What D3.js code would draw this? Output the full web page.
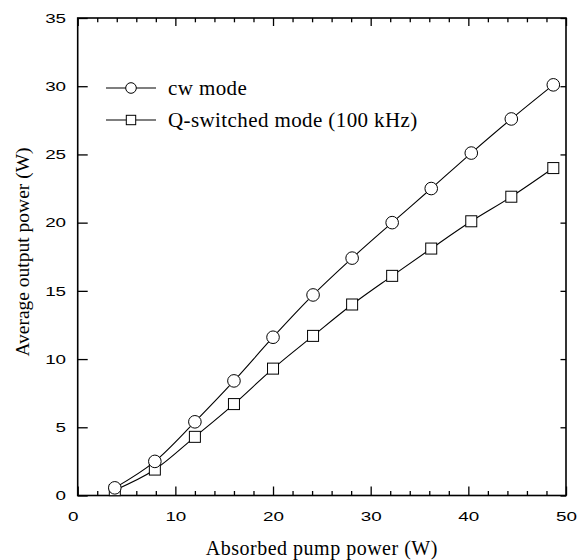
<!DOCTYPE html>
<html lang="en">
<head>
<meta charset="UTF-8">
<title>Average output power vs absorbed pump power</title>
<script src="https://cdn.jsdelivr.net/npm/d3@7"></script>
<style>
    body { margin: 0; background: #fff; }
    .tick text { font-family: "Liberation Sans", Arial, Helvetica, sans-serif; }
    .serif { font-family: "Liberation Serif", "Times New Roman", Times, serif; }
</style>
</head>
<body>
<script>
    // data
    const pumpPower = [3.8, 7.9, 12.0, 16.0, 20.0, 24.1, 28.1, 32.2, 36.2, 40.3, 44.4, 48.7]
    const cwPower = [0.56, 2.5, 5.4, 8.4, 11.6, 14.7, 17.4, 20.0, 22.5, 25.1, 27.6, 30.1]
    const qsPower = [0.39, 1.9, 4.3, 6.7, 9.3, 11.7, 14.0, 16.1, 18.1, 20.1, 21.9, 24.0]
    const seriesNames = ["cw mode", "Q-switched mode (100 kHz)"]
    const xMajor = [0, 10, 20, 30, 40, 50]
    const xMinor = [2, 4, 6, 8, 12, 14, 16, 18, 22, 24, 26, 28, 32, 34, 36, 38, 42, 44, 46, 48]
    const yMajor = [0, 5, 10, 15, 20, 25, 30, 35]

    const width = 579, height = 560
    const plotL = 77.7, plotR = 566, plotT = 18, plotB = 495.5
    const stretch = 1.45

    const svg = d3.select("body").append("svg").attr("width", width).attr("height", height)

    const x = d3.scaleLinear().domain([0, 50]).range([plotL, plotR])
    const y = d3.scaleLinear().domain([0, 35]).range([plotB, plotT])

    function styleTicks(g) {
        g.attr("font-family", null).attr("font-size", null)
        g.select(".domain").remove()
        g.selectAll("line").attr("stroke", "#000").attr("stroke-width", 1.3)
        g.selectAll("text").style("font-size", "13px").attr("fill", "#000")
    }

    // bottom axis, major and minor ticks pointing inward
    svg.append("g").attr("transform", `translate(0,${plotB})`)
        .call(d3.axisBottom(x).tickValues(xMajor).tickSizeInner(-9).tickSizeOuter(0).tickPadding(16).tickFormat(d3.format("d")))
        .call(styleTicks)
        .call(g => g.selectAll("text").attr("transform", d => `translate(${d === 0 ? -5 : 0},0) scale(${stretch},1)`))
    svg.append("g").attr("transform", `translate(0,${plotB})`)
        .call(d3.axisBottom(x).tickValues(xMinor).tickSizeInner(-4.5).tickSizeOuter(0).tickFormat(""))
        .call(styleTicks)

    // top axis
    svg.append("g").attr("transform", `translate(0,${plotT})`)
        .call(d3.axisTop(x).tickValues(xMajor).tickSizeInner(-8).tickSizeOuter(0).tickFormat(""))
        .call(styleTicks)
    svg.append("g").attr("transform", `translate(0,${plotT})`)
        .call(d3.axisTop(x).tickValues(xMinor).tickSizeInner(-4.3).tickSizeOuter(0).tickFormat(""))
        .call(styleTicks)

    // left axis
    svg.append("g").attr("transform", `translate(${plotL},0)`)
        .call(d3.axisLeft(y).tickValues(yMajor).tickSizeInner(-10).tickSizeOuter(0).tickPadding(8).tickFormat(d3.format("d")))
        .call(styleTicks)
        .call(g => g.selectAll("text").attr("transform", `scale(${stretch},1)`))

    // right axis
    svg.append("g").attr("transform", `translate(${plotR},0)`)
        .call(d3.axisRight(y).tickValues(yMajor).tickSizeInner(-5.5).tickSizeOuter(0).tickFormat(""))
        .call(styleTicks)

    // frame
    svg.append("rect")
        .attr("x", plotL).attr("y", plotT)
        .attr("width", plotR - plotL).attr("height", plotB - plotT)
        .attr("fill", "none").attr("stroke", "#000").attr("stroke-width", 1.6)

    const line = d3.line().x(d => x(d[0])).y(d => y(d[1])).curve(d3.curveMonotoneX)
    const cwData = pumpPower.map((p, i) => [p, cwPower[i]])
    const qsData = pumpPower.map((p, i) => [p, qsPower[i]])

    svg.append("path").datum(cwData).attr("d", line)
        .attr("fill", "none").attr("stroke", "#000").attr("stroke-width", 1.1)
    svg.append("path").datum(qsData).attr("d", line)
        .attr("fill", "none").attr("stroke", "#000").attr("stroke-width", 1.1)

    svg.selectAll(".sq").data(qsData).enter().append("rect")
        .attr("x", d => x(d[0]) - 5.5).attr("y", d => y(d[1]) - 5.5)
        .attr("width", 11).attr("height", 11)
        .attr("fill", "#fff").attr("stroke", "#000").attr("stroke-width", 1)

    svg.selectAll(".ci").data(cwData).enter().append("circle")
        .attr("cx", d => x(d[0])).attr("cy", d => y(d[1])).attr("r", 6.3)
        .attr("fill", "#fff").attr("stroke", "#000").attr("stroke-width", 1)

    // legend
    const legend = svg.append("g")
    const rows = [88, 120]
    rows.forEach((ly, i) => {
        legend.append("line").attr("x1", 106).attr("x2", 156).attr("y1", ly).attr("y2", ly)
            .attr("stroke", "#000").attr("stroke-width", 1.1)
        if (i === 0) {
            legend.append("circle").attr("cx", 131).attr("cy", ly).attr("r", 5.3)
                .attr("fill", "#fff").attr("stroke", "#000")
        } else {
            legend.append("rect").attr("x", 131 - 4.7).attr("y", ly - 4.7).attr("width", 9.4).attr("height", 9.4)
                .attr("fill", "#fff").attr("stroke", "#000")
        }
        legend.append("text").attr("class", "serif").attr("x", 168).attr("y", ly + 7)
            .style("font-size", "21px").style("letter-spacing", "0.4px")
            .text(seriesNames[i])
    })

    // axis titles
    svg.append("text").attr("class", "serif").attr("x", (plotL + plotR) / 2).attr("y", 555)
        .attr("text-anchor", "middle").style("font-size", "20px").style("letter-spacing", "0.5px")
        .text("Absorbed pump power (W)")
    svg.append("text").attr("class", "serif").attr("transform", `translate(29,252) rotate(-90)`)
        .attr("text-anchor", "middle").style("font-size", "19.5px")
        .text("Average output power (W)")
</script>
</body>
</html>
